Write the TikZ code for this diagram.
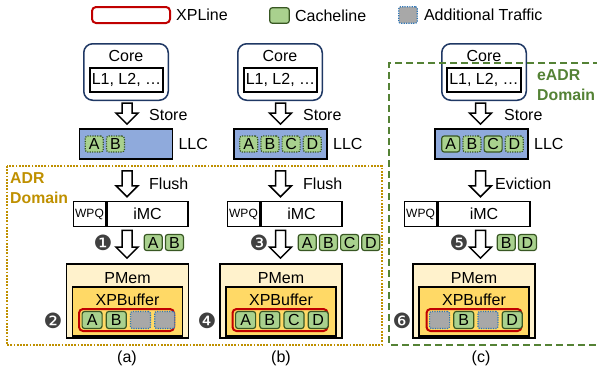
\documentclass[tikz,border=0pt]{standalone}
\usepackage{fontspec}
\setmainfont{Liberation Sans}
\newfontfamily\numfont{DejaVu Sans}
\usetikzlibrary{positioning,calc}
\definecolor{corenavy}{RGB}{31,56,100}
\definecolor{llcblue}{RGB}{143,170,220}
\definecolor{clfill}{RGB}{169,209,142}
\definecolor{clgreen}{RGB}{56,87,35}
\definecolor{trgray}{RGB}{168,168,168}
\definecolor{trblue}{RGB}{46,117,182}
\definecolor{xpred}{RGB}{192,0,0}
\definecolor{pmemfill}{RGB}{255,242,204}
\definecolor{xpbuffill}{RGB}{255,217,102}
\definecolor{adrgold}{RGB}{191,144,0}
\definecolor{eadrgreen}{RGB}{84,130,53}
\definecolor{numgray}{RGB}{64,64,64}
\tikzset{
  lbl/.style={inner sep=0pt},
  corebox/.style={
    rectangle, rounded corners=9pt, draw=corenavy, fill=white,
    line width=1.5pt, minimum width=84.5pt, minimum height=56.5pt
  },
  l1box/.style={
    rectangle, draw=black, fill=white, line width=1.8pt,
    minimum width=73.5pt, minimum height=24.5pt, inner sep=0pt
  },
  llcbox/.style={
    rectangle, draw=black, fill=llcblue, line width=1.8pt,
    minimum width=93pt, minimum height=30pt
  },
  wpqbox/.style={
    rectangle, draw=black, fill=white, line width=1.5pt,
    minimum width=32pt, minimum height=25pt, inner sep=0pt,
    font=\fontsize{12}{12}\selectfont
  },
  imcbox/.style={
    rectangle, draw=black, fill=white, line width=1.5pt,
    minimum width=81pt, minimum height=25pt, inner sep=0pt
  },
  pmembox/.style={
    rectangle, draw=black, fill=pmemfill, line width=1.8pt,
    minimum width=122pt, minimum height=74pt
  },
  xpbufbox/.style={
    rectangle, draw=black, fill=xpbuffill, line width=1.8pt,
    minimum width=110pt, minimum height=49.5pt
  },
  xplinebox/.style={
    rectangle, rounded corners=4pt, draw=xpred, fill=xpbuffill,
    line width=2pt, minimum width=95pt, minimum height=22pt
  },
  clbox/.style={
    rectangle, rounded corners=2.5pt, draw=clgreen, fill=clfill,
    line width=1.2pt, minimum width=18pt, minimum height=16pt, inner sep=0pt
  },
  clwait/.style={clbox, dash pattern=on 1.2pt off 1.2pt},
  xpcell/.style={minimum width=20pt, minimum height=17pt},
  trafficbox/.style={
    rectangle, rounded corners=2pt, draw=trblue, fill=trgray,
    line width=1.2pt, dash pattern=on 1.2pt off 1.2pt,
    minimum width=20pt, minimum height=17pt, inner sep=0pt
  },
  numlbl/.style={inner sep=0pt, text=numgray,
    font={\numfont\fontsize{21}{21}\selectfont}},
  domaintext/.style={inner sep=0pt, anchor=north west, align=left,
    font=\fontsize{15.8}{20}\selectfont\bfseries},
  blockarrow/.style={
    draw=black, fill=white, line width=1.5pt, line join=miter,
    to path={
      let \p1=(\tikztostart), \p2=(\tikztotarget) in
      (\x1-5pt,\y1) -- (\x1+5pt,\y1) -- (\x1+5pt,\y2+11pt)
      -- (\x1+11pt,\y2+11pt) -- (\x1,\y2) -- (\x1-11pt,\y2+11pt)
      -- (\x1-5pt,\y2+11pt) -- cycle
    }
  }
}

\begin{document}
\begin{tikzpicture}[x=1pt, y=-1pt, font=\fontsize{16}{19}\selectfont]
  \useasboundingbox (0,0) rectangle (597,373);

  \node[xplinebox, fill=white, minimum width=78pt, minimum height=16pt] (legxp) at (131,15) {};
  \node[lbl, right=5pt of legxp] (legxptext) {XPLine};
  \node[clbox, minimum width=19.5pt, minimum height=15.5pt] (legcl) at (279.5,15.5) {};
  \node[lbl, right=5pt of legcl] (legcltext) {Cacheline};
  \node[trafficbox, minimum width=18.5pt, minimum height=16.5pt] (legtr) at (408,15) {};
  \node[lbl, right=6pt of legtr] (legtrtext) {Additional Traffic};

  \draw[adrgold, line width=1.6pt, dash pattern=on 1.8pt off 1.4pt] (7,166) rectangle (382,345);
  \node[domaintext, text=adrgold] (adrname) at (10,172.5) {ADR\\Domain};

  % (a)
  \node[corebox] (core1) at (126,72) {};
  \node[lbl, below=7pt of core1.north] (corename1) {Core};
  \node[l1box] (l1a) at (126.5,80) {L1, L2, …};
  \node[llcbox] (llc1) at (126,144) {};
  \node[lbl, right=5pt of llc1] (llcname1) {LLC};
  \node[clwait, right=6pt of llc1.west] (llc1a) {A};
  \node[clwait, right=2pt of llc1a] (llc1b) {B};
  \node[wpqbox] (wpq1) at (89.5,214) {WPQ};
  \node[imcbox, right=0pt of wpq1] (imc1) {iMC};
  \node[clbox, anchor=west] (tr1a) at (143.6,242.5) {A};
  \node[clbox, right=2pt of tr1a] (tr1b) {B};
  \node[pmembox] (pmem1) at (127.5,301) {};
  \node[lbl, below=9pt of pmem1.north] (pmemname1) {PMem};
  \node[xpbufbox] (xpbuf1) at (127.5,311.5) {};
  \node[lbl, below=7.5pt of xpbuf1.north] (xpbufname1) {XPBuffer};
  \node[xplinebox] (xpl1) at (126.5,320) {};
  \node[clbox, xpcell, right=3.5pt of xpl1.west] (xp1a) {A};
  \node[clbox, xpcell, right=3pt of xp1a] (xp1b) {B};
  \node[trafficbox, right=3pt of xp1b] (xp1c) {};
  \node[trafficbox, right=3pt of xp1c] (xp1d) {};
  \node[numlbl] (n1) at (103,243) {❶};
  \node[numlbl] (n2) at (53,321) {❷};
  \node[lbl, anchor=west] (store1) at (149,115) {Store};
  \node[lbl, anchor=west] (flush1) at (149,184) {Flush};
  \node[lbl] (cap1) at (127,358) {(a)};
  \draw[blockarrow] ($(core1.south)+(1,2)$) to ($(llc1.north)+(0,-4)$);
  \draw[blockarrow] ($(llc1.south)+(1,11)$) to ($(imc1.north)+(0,-4)$);
  \draw[blockarrow] ($(llc1.south |- imc1.south)+(1,3)$) to ($(pmem1.north)+(0,-5)$);

  % (b)
  \node[corebox] (core2) at (280,72) {};
  \node[lbl, below=7pt of core2.north] (corename2) {Core};
  \node[l1box] (l1b) at (280.5,80) {L1, L2, …};
  \node[llcbox] (llc2) at (280.5,144) {};
  \node[lbl, right=5pt of llc2] (llcname2) {LLC};
  \node[clwait, right=6pt of llc2.west] (llc2a) {A};
  \node[clwait, right=2pt of llc2a] (llc2b) {B};
  \node[clwait, right=2pt of llc2b] (llc2c) {C};
  \node[clwait, right=2pt of llc2c] (llc2d) {D};
  \node[wpqbox] (wpq2) at (243.5,214) {WPQ};
  \node[imcbox, right=0pt of wpq2] (imc2) {iMC};
  \node[clbox, anchor=west] (tr2a) at (297.6,242.5) {A};
  \node[clbox, right=2pt of tr2a] (tr2b) {B};
  \node[clbox, right=2pt of tr2b] (tr2c) {C};
  \node[clbox, right=2pt of tr2c] (tr2d) {D};
  \node[pmembox] (pmem2) at (281,301) {};
  \node[lbl, below=9pt of pmem2.north] (pmemname2) {PMem};
  \node[xpbufbox] (xpbuf2) at (281,311.5) {};
  \node[lbl, below=7.5pt of xpbuf2.north] (xpbufname2) {XPBuffer};
  \node[xplinebox] (xpl2) at (280,320) {};
  \node[clbox, xpcell, right=3.5pt of xpl2.west] (xp2a) {A};
  \node[clbox, xpcell, right=3pt of xp2a] (xp2b) {B};
  \node[clbox, xpcell, right=3pt of xp2b] (xp2c) {C};
  \node[clbox, xpcell, right=3pt of xp2c] (xp2d) {D};
  \node[numlbl] (n3) at (259,243) {❸};
  \node[numlbl] (n4) at (207,321) {❹};
  \node[lbl, anchor=west] (store2) at (303,115) {Store};
  \node[lbl, anchor=west] (flush2) at (303,184) {Flush};
  \node[lbl] (cap2) at (281,358) {(b)};
  \draw[blockarrow] ($(core2.south)+(0.5,2)$) to ($(llc2.north)+(0,-4)$);
  \draw[blockarrow] ($(llc2.south)+(0,11)$) to ($(imc2.north)+(0,-4)$);
  \draw[blockarrow] ($(llc2.south |- imc2.south)+(0,3)$) to ($(pmem2.north)+(0,-5)$);

  % (c)
  \node[corebox] (core3) at (484,72) {};
  \node[lbl, below=7pt of core3.north] (corename3) {Core};
  \node[l1box] (l1c) at (484,80) {L1, L2, …};
  \node[llcbox] (llc3) at (481.5,144) {};
  \node[lbl, right=5pt of llc3] (llcname3) {LLC};
  \node[clbox, right=7pt of llc3.west] (llc3a) {A};
  \node[clwait, right=2pt of llc3a] (llc3b) {B};
  \node[clbox, right=2pt of llc3b] (llc3c) {C};
  \node[clwait, right=2pt of llc3c] (llc3d) {D};
  \node[wpqbox] (wpq3) at (420.5,214) {WPQ};
  \node[imcbox, minimum width=92pt, right=0pt of wpq3] (imc3) {iMC};
  \node[clbox, anchor=west] (tr3a) at (496.6,242.5) {B};
  \node[clbox, right=2pt of tr3a] (tr3b) {D};
  \node[pmembox] (pmem3) at (474,301) {};
  \node[lbl, below=9pt of pmem3.north] (pmemname3) {PMem};
  \node[xpbufbox] (xpbuf3) at (474,311.5) {};
  \node[lbl, below=7.5pt of xpbuf3.north] (xpbufname3) {XPBuffer};
  \node[xplinebox] (xpl3) at (474,320) {};
  \node[trafficbox, right=3.5pt of xpl3.west] (xp3a) {};
  \node[clbox, xpcell, right=3pt of xp3a] (xp3b) {B};
  \node[trafficbox, right=3pt of xp3b] (xp3c) {};
  \node[clbox, xpcell, right=3pt of xp3c] (xp3d) {D};
  \node[numlbl] (n5) at (459,243) {❺};
  \node[numlbl] (n6) at (402,321) {❻};
  \node[lbl, anchor=west] (store3) at (504,115) {Store};
  \node[lbl, anchor=west] (evict3) at (495,184) {Eviction};
  \node[lbl] (cap3) at (481,358) {(c)};
  \draw[blockarrow] ($(core3.south)+(-3.5,2)$) to ($(llc3.north)+(0,-4)$);
  \draw[blockarrow] ($(llc3.south)+(-1,11)$) to ($(imc3.north)+(0,-4)$);
  \draw[blockarrow] ($(llc3.south |- imc3.south)+(-1,3)$) to ($(pmem3.north)+(0,-5)$);

  \draw[eadrgreen, line width=1.6pt, dash pattern=on 7pt off 4pt]
    (600,63) -- (389,63) -- (389,345) -- (600,345);
  \node[domaintext, text=eadrgreen] (eadrname) at (537,69) {eADR\\Domain};
\end{tikzpicture}
\end{document}
